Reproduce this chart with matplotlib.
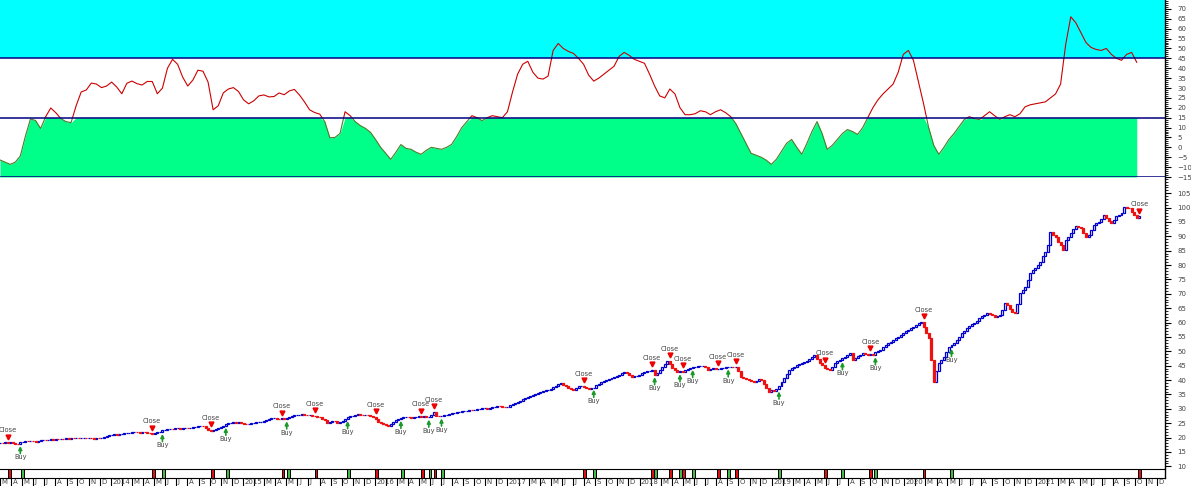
import numpy as np
import pandas as pd
import matplotlib
matplotlib.use("Agg")
import matplotlib.pyplot as plt
import matplotlib.transforms as mtransforms
from matplotlib.patches import Rectangle
from matplotlib.ticker import MultipleLocator

# weekly closes, first bar is the week of 6 Mar 2013
closes = [
    18.2, 18.0, 18.3, 18.1, 18.4, 18.2, 17.9, 17.8, 18.3, 18.6,
    18.8, 18.7, 18.9, 18.8, 18.6, 18.9, 19.0, 19.2, 19.1, 19.3,
    19.4, 19.3, 19.5, 19.4, 19.6, 19.5, 19.7, 19.6, 19.8, 19.7,
    19.9, 19.8, 20.0, 20.0, 19.8, 19.9, 19.7, 19.6, 19.8, 19.7,
    19.7, 20.2, 20.5, 20.8, 20.9, 21.1, 21.0, 21.3, 21.4, 21.5,
    21.6, 21.7, 21.9, 21.9, 21.8, 21.7, 21.9, 21.8, 21.6, 21.5,
    21.4, 21.7, 21.9, 22.0, 22.5, 22.8, 23.0, 23.1, 23.0, 23.2,
    23.2, 23.0, 23.3, 23.4, 23.2, 23.4, 23.6, 23.8, 23.9, 24.1,
    23.9, 23.4, 22.8, 22.3, 22.6, 23.0, 23.2, 23.8, 24.2, 24.6,
    25.0, 25.2, 25.3, 25.1, 25.3, 25.0, 24.8, 24.6, 24.7, 24.9,
    25.1, 25.3, 25.4, 25.5, 25.8, 26.2, 26.5, 26.7, 26.8, 26.6,
    26.5, 26.7, 26.4, 26.8, 27.2, 27.5, 27.7, 27.9, 28.0, 28.1,
    28.0, 27.8, 27.9, 27.6, 27.5, 27.3, 27.0, 26.6, 26.1, 25.0,
    25.4, 25.8, 25.6, 25.2, 25.3, 25.9, 26.5, 27.0, 27.5, 27.6,
    27.9, 28.1, 28.0, 27.8, 27.9, 27.7, 27.5, 27.2, 26.3, 25.4,
    25.0, 24.6, 24.4, 24.1, 24.8, 25.5, 26.1, 26.6, 26.8, 27.0,
    27.2, 27.0, 26.8, 27.1, 27.3, 27.4, 27.2, 27.5, 27.0, 27.3,
    28.0, 28.9, 27.6, 27.4, 27.4, 27.8, 28.0, 28.2, 28.4, 28.6,
    28.8, 28.9, 29.1, 29.2, 29.4, 29.6, 29.5, 29.7, 29.9, 30.0,
    30.2, 30.3, 30.1, 30.4, 30.6, 30.8, 31.0, 30.9, 30.7, 30.6,
    30.8, 31.3, 31.8, 32.2, 32.5, 32.9, 33.3, 33.6, 34.0, 34.3,
    34.7, 35.1, 35.4, 35.8, 36.1, 36.4, 36.6, 37.0, 37.5, 38.0,
    38.5, 38.9, 38.4, 37.8, 37.2, 36.8, 36.6, 37.3, 37.8, 38.0,
    37.5, 37.2, 37.0, 37.4, 37.4, 38.2, 38.8, 39.4, 39.8, 40.2,
    40.5, 40.8, 41.0, 41.4, 41.9, 42.4, 42.9, 42.5, 41.6, 41.0,
    41.3, 41.5, 41.9, 42.5, 42.9, 43.1, 43.3, 43.5, 41.8, 42.6,
    43.5, 44.7, 45.5, 46.8, 45.6, 44.3, 43.5, 42.8, 43.2, 42.9,
    43.4, 43.9, 44.3, 44.5, 44.7, 44.8, 44.9, 45.0, 44.4, 43.5,
    43.8, 44.1, 43.9, 44.0, 44.2, 44.3, 44.5, 44.6, 44.7, 44.6,
    44.7, 43.0, 41.2, 40.6, 40.3, 40.0, 39.6, 39.4, 39.8, 40.3,
    40.0, 38.6, 37.2, 36.0, 36.4, 36.2, 36.8, 37.8, 39.4, 40.8,
    42.2, 43.5, 44.1, 44.6, 45.1, 45.6, 45.8, 46.3, 46.8, 47.2,
    47.9, 48.7, 47.5, 46.0, 45.2, 44.1, 43.8, 43.5, 44.6, 45.8,
    46.5, 47.0, 47.6, 48.2, 48.8, 49.3, 47.0, 47.6, 48.3, 48.9,
    49.3, 49.0, 48.7, 49.1, 48.7, 49.6, 50.1, 50.5, 51.6, 52.3,
    52.9, 53.4, 54.0, 54.6, 55.1, 55.8, 56.5, 57.0, 57.5, 58.0,
    58.6, 59.2, 59.7, 60.3, 58.6, 56.5, 54.5, 47.0, 39.4, 43.0,
    45.8, 47.0, 48.1, 49.8, 51.6, 52.2, 52.8, 54.0, 55.1, 56.5,
    57.2, 58.0, 58.8, 59.5, 59.8, 60.6, 61.5, 62.2, 62.8, 63.3,
    63.0, 62.5, 62.1, 62.4, 62.7, 64.5, 66.7, 66.1, 64.6, 63.8,
    63.3, 66.5, 70.2, 71.4, 72.5, 74.8, 77.2, 78.3, 79.0, 80.1,
    81.2, 83.0, 84.7, 87.0, 91.6, 90.5, 89.9, 88.2, 87.0, 85.3,
    88.7, 89.8, 91.1, 92.4, 93.6, 93.1, 92.8, 91.2, 89.9, 90.5,
    92.3, 94.0, 94.6, 95.1, 96.2, 97.4, 96.5, 95.4, 94.5, 95.8,
    97.1, 97.6, 98.0, 100.3, 99.9, 99.7, 98.6, 97.4, 96.3, 97.0,
]

# oscillator, one reading every two weeks
osc = [
    -6.4, -7.5, -8.6, -7.5, -4.4, 5.6, 14.3, 13.6, 9.5, 15.5,
    19.9, 17.5, 14.5, 13.0, 12.5, 21.0, 28.0, 29.0, 32.5, 32.0,
    30.2, 31.0, 33.0, 30.5, 27.1, 32.4, 33.5, 32.2, 31.5, 33.3,
    33.3, 27.1, 29.9, 40.0, 44.5, 42.0, 35.5, 31.0, 34.0, 39.0,
    38.5, 33.0, 19.0, 21.0, 27.5, 29.5, 30.2, 28.2, 24.0, 22.0,
    23.5, 26.0, 26.5, 25.5, 25.7, 27.5, 26.6, 28.5, 29.3, 26.5,
    23.0, 19.0, 17.6, 16.8, 13.0, 4.8, 5.0, 7.0, 18.0, 16.0,
    13.0, 11.0, 9.6, 7.6, 4.0, 0.0, -3.0, -6.1, -2.5, 1.4,
    -0.5, -1.0, -2.5, -3.5, -1.5, 0.0, -0.5, -1.0, 0.0, 1.5,
    5.5, 10.0, 13.0, 16.0, 15.0, 13.5, 15.0, 16.0, 15.5, 15.0,
    18.0, 28.0, 37.0, 42.0, 43.5, 38.0, 35.0, 34.5, 36.0, 49.0,
    52.5, 50.0, 48.5, 47.5, 45.0, 42.0, 36.5, 33.5, 35.0, 37.0,
    39.0, 41.0, 46.0, 48.0, 46.5, 44.5, 43.5, 42.5, 37.0, 31.0,
    26.0, 25.0, 29.5, 27.0, 20.0, 16.5, 16.5, 17.0, 18.5, 18.0,
    16.5, 18.0, 19.0, 17.5, 15.5, 12.0, 7.0, 2.0, -3.0, -4.0,
    -5.0, -6.5, -8.6, -6.0, -2.0, 2.0, 4.0, 0.0, -3.5, 2.0,
    8.0, 13.0, 7.0, -1.0, 1.0, 4.0, 7.0, 9.0, 8.0, 6.5,
    10.0, 15.0, 20.0, 24.0, 27.0, 29.5, 32.0, 38.0, 47.0, 49.0,
    44.0, 33.0, 22.0, 10.0, 1.0, -3.5, 0.0, 4.0, 7.0, 10.5,
    14.0, 15.5, 14.5, 14.0, 16.0, 18.0, 16.0, 14.0, 15.5, 16.5,
    15.5, 17.0, 20.5, 21.5, 22.0, 22.5, 23.0, 25.0, 27.0, 32.0,
    52.0, 66.0, 63.0, 58.0, 53.0, 50.5, 49.5, 49.0, 50.0, 47.0,
    45.0, 44.0, 47.0, 48.0, 43.0,
]

# bar numbers of the signals
close_bars = [3, 60, 83, 111, 124, 148, 166, 171, 230, 257, 264, 269,
              283, 290, 325, 343, 364, 449]
buy_bars = [8, 64, 89, 113, 137, 158, 169, 174, 234, 258, 268, 273,
            287, 307, 332, 345, 375]

month_letters = "JFMAMJJASOND"

start = pd.Timestamp("2013-03-06")
x_left = pd.Timestamp("2013-03-06")
x_right = pd.Timestamp("2021-12-23")

c = np.array(closes)
o = np.r_[c[0], c[:-1]]
bar_dates = start + pd.to_timedelta(np.arange(len(c)) * 7, unit="D")
osc_v = np.array(osc)
osc_dates = start + pd.to_timedelta(np.arange(len(osc_v)) * 14, unit="D")

fig = plt.figure(figsize=(11.91, 4.86), dpi=100)
W = 1165 / 1191
ax1 = fig.add_axes([0, 1 - 177 / 486, W, 177 / 486])
ax2 = fig.add_axes([0, 1 - 468 / 486, W, 290 / 486])
ax3 = fig.add_axes([0, 1 - 478 / 486, W, 9 / 486])

navy = "#000080"
lab_col = "#444444"

for ax in (ax1, ax2, ax3):
    ax.set_xlim(x_left, x_right)
    for s in ("left", "top", "bottom"):
        ax.spines[s].set_visible(False)
    ax.spines["right"].set_linewidth(1.0)

# ---- oscillator panel
ax1.set_ylim(-15, 74.5)
ax1.axhspan(45, 74.5, color="#00ffff", lw=0, zorder=0)
ax1.fill_between(osc_dates, -15, np.minimum(osc_v, 15), color="#00ff88", lw=0, zorder=1)
# one line, red above the 15 level and olive where it edges the green fill
above = Rectangle((0, 15), 1, 100, transform=mtransforms.blended_transform_factory(ax1.transAxes, ax1.transData))
below = Rectangle((0, -100), 1, 115, transform=mtransforms.blended_transform_factory(ax1.transAxes, ax1.transData))
l_red, = ax1.plot(osc_dates, osc_v, color="#cc0000", lw=0.8, zorder=3)
l_red.set_clip_path(above)
l_grn, = ax1.plot(osc_dates, osc_v, color="#4f7a2a", lw=0.8, zorder=3)
l_grn.set_clip_path(below)
for lvl in (45, 15, -15):
    ax1.axhline(lvl, color=navy, lw=1.1, zorder=4)
ax1.yaxis.tick_right()
ax1.set_yticks(range(-15, 71, 5))
ax1.yaxis.set_minor_locator(MultipleLocator(1))
ax1.set_xticks([])

# ---- price panel
ax2.set_ylim(9.42, 110.3)
up = c >= o
ax2.bar(bar_dates[up], (c - o)[up], bottom=o[up], width=5.5,
        facecolor="white", edgecolor="#0000cc", linewidth=0.9, zorder=3)
ax2.bar(bar_dates[~up], (c - o)[~up], bottom=o[~up], width=5.5,
        facecolor="#ee1111", edgecolor="#ee1111", linewidth=0.9, zorder=3)
ax2.yaxis.tick_right()
ax2.set_yticks(range(10, 106, 5))
ax2.yaxis.set_minor_locator(MultipleLocator(1))
ax2.set_xticks([])

hi = np.maximum(o, c)
lo = np.minimum(o, c)
up_mark = mtransforms.offset_copy(ax2.transData, fig=fig, y=4, units="points")
for b in close_bars:
    ax2.plot(bar_dates[b], hi[b], marker="v", ms=3.5, color="#ee0000",
             transform=up_mark, zorder=5, clip_on=False)
    ax2.annotate("Close", xy=(bar_dates[b], hi[b]), xytext=(0, 6.5),
                 textcoords="offset points", ha="center", va="bottom",
                 fontsize=4.8, color=lab_col, zorder=6)
for b in buy_bars:
    ax2.annotate("", xy=(bar_dates[b], lo[b]), xytext=(0, -7),
                 textcoords="offset points",
                 arrowprops=dict(arrowstyle="-|>", color="#1a9a2a", lw=1.2,
                                 mutation_scale=5, shrinkA=0, shrinkB=1.5),
                 zorder=5)
    ax2.annotate("Buy", xy=(bar_dates[b], lo[b]), xytext=(0, -7.5),
                 textcoords="offset points", ha="center", va="top",
                 fontsize=4.8, color=lab_col, zorder=6)

for ax in (ax1, ax2):
    ax.tick_params(axis="y", which="major", direction="out", length=4,
                   width=0.8, labelsize=5, labelcolor=lab_col, pad=5)
    ax.tick_params(axis="y", which="minor", direction="out", length=2, width=0.6)

# ---- signal strip and month scale
ax3.set_ylim(0, 1)
ax3.spines["top"].set_visible(True)
ax3.spines["bottom"].set_visible(True)
ax3.set_yticks([])
ax3.bar(bar_dates[close_bars], 1, bottom=0, width=8, facecolor="#dd1111",
        edgecolor="black", linewidth=0.7)
ax3.bar(bar_dates[buy_bars], 1, bottom=0, width=8, facecolor="#44bb44",
        edgecolor="black", linewidth=0.7)

months = pd.date_range("2013-03-01", "2021-12-01", freq="MS")
ax3.set_xticks(months)
ax3.set_xticklabels([])
ax3.tick_params(axis="x", direction="out", length=6, width=0.8, color="black")
lab_tr = mtransforms.blended_transform_factory(ax3.transData, ax3.transAxes)
for m in months:
    if m.month == 1:
        txt = str(m.year)
    elif m.month == 2:
        txt = ""
    else:
        txt = month_letters[m.month - 1]
    ax3.text(m + pd.Timedelta(days=4), -0.45, txt, transform=lab_tr,
             ha="left", va="center", fontsize=5, color=lab_col)

fig.savefig("out.png", dpi=100)
